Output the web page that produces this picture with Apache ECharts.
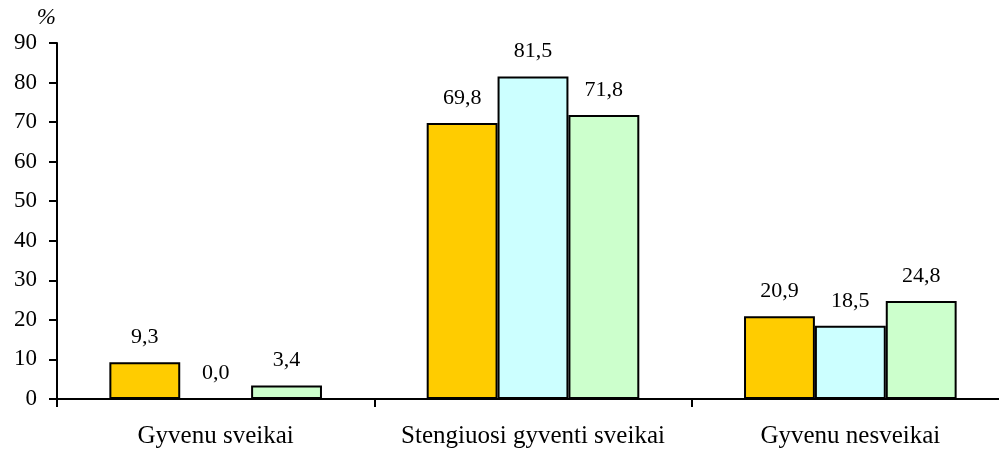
<!DOCTYPE html>
<html><head><meta charset="utf-8">
<script src="https://cdn.jsdelivr.net/npm/echarts@6/dist/echarts.min.js"></script>
<style>html,body{margin:0;padding:0;background:#fff;overflow:hidden;width:999px;height:449px}#c{width:1011px;height:449px}</style>
</head><body><div id="c"></div>
<script>
const categories = ['Gyvenu sveikai', 'Stengiuosi gyventi sveikai', 'Gyvenu nesveikai'];
const series1 = [9.3, 69.8, 20.9];
const series2 = [0.0, 81.5, 18.5];
const series3 = [3.4, 71.8, 24.8];
const yTicks = [0, 10, 20, 30, 40, 50, 60, 70, 80, 90];
const colors = ['#FFCC00', '#CCFFFF', '#CCFFCC'];
const font = '"Liberation Serif", "Times New Roman", serif';
const chart = echarts.init(document.getElementById('c'));
function mk(data, color) {
  return {
    type: 'bar', data: data, barGap: '0%', barCategoryGap: '33%',
    itemStyle: { color: color, borderColor: '#000', borderWidth: 2 },
    label: { show: true, position: 'top', distance: 14, color: '#000', fontFamily: font, fontSize: 22,
      formatter: p => p.value.toFixed(1).replace('.', ',') },
    animation: false
  };
}
chart.setOption({
  animation: false,
  grid: { left: 57, right: 2, top: 43, bottom: 50, containLabel: false },
  xAxis: {
    type: 'category', data: categories,
    axisLine: { lineStyle: { color: '#000', width: 2 } },
    axisTick: { show: true, length: 8, lineStyle: { color: '#000', width: 2 } },
    axisLabel: { color: '#000', fontFamily: font, fontSize: 25, margin: 25, interval: 0 }
  },
  yAxis: {
    type: 'value', min: yTicks[0], max: yTicks[yTicks.length - 1], interval: 10,
    name: '%', nameLocation: 'end', nameGap: 14,
    nameTextStyle: { color: '#000', fontFamily: font, fontSize: 23, fontStyle: 'italic', align: 'right', padding: [0, 1, 0, 0] },
    axisLine: { show: true, lineStyle: { color: '#000', width: 2 } },
    axisTick: { show: true, inside: false, length: 8, lineStyle: { color: '#000', width: 2 } },
    axisLabel: { color: '#000', fontFamily: font, fontSize: 23, margin: 20 },
    splitLine: { show: false }
  },
  series: [mk(series1, colors[0]), mk(series2, colors[1]), mk(series3, colors[2])]
});
</script></body></html>
